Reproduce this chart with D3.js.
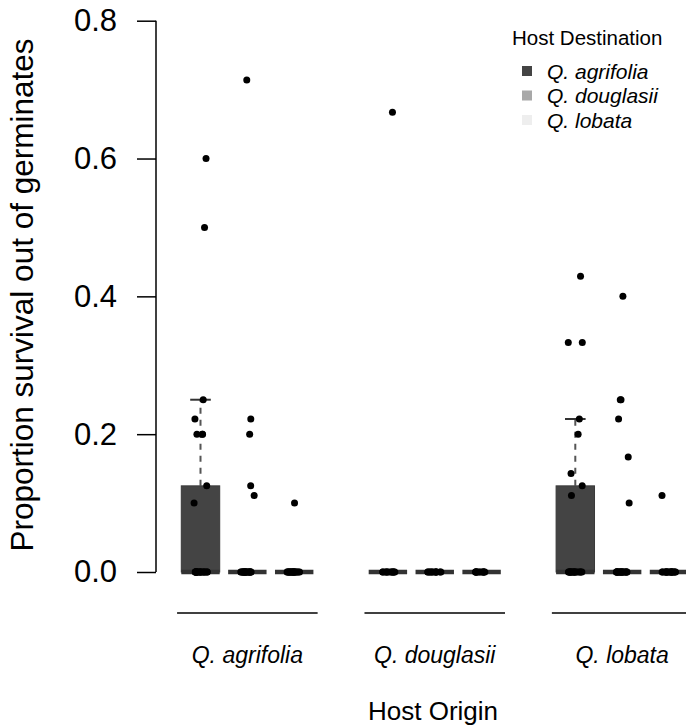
<!DOCTYPE html>
<html>
<head>
<meta charset="utf-8">
<script src="https://cdn.jsdelivr.net/npm/d3@7"></script>
<style>
  body { margin: 0; background: #fff; }
  svg { display: block; font-family: "Liberation Sans", Arial, Helvetica, sans-serif; }
</style>
</head>
<body>
<div id="chart"></div>
<script>
// host origin groups and destination series
const origins = ["Q. agrifolia", "Q. douglasii", "Q. lobata"];
const destinations = ["Q. agrifolia", "Q. douglasii", "Q. lobata"];

// non-zero proportions surviving, one list per destination
const fromAgrifolia = [[0.6, 0.5, 0.25, 0.222, 0.2, 0.2, 0.2, 0.125, 0.1],
                       [0.714, 0.222, 0.2, 0.125, 0.111],
                       [0.1]];
const fromDouglasii = [[0.667], [], []];
const fromLobata = [[0.429, 0.333, 0.333, 0.222, 0.2, 0.143, 0.125, 0.111],
                    [0.4, 0.25, 0.25, 0.222, 0.167, 0.1],
                    [0.111]];
// how many germinates had zero survival in each cell
const zeroCounts = [[20, 20, 20], [12, 12, 12], [17, 20, 18]];

const yTicks = [0, 0.2, 0.4, 0.6, 0.8];

const destColors = ["#444444", "#a8a8a8", "#eeeeee"];

const width = 686, height = 727;

const svg = d3.select("#chart").append("svg")
    .attr("width", width)
    .attr("height", height);

// box positions 1..11 with a gap between origin groups
const x = d3.scaleLinear().domain([1, 11]).range([200.5, 669]);
const y = d3.scaleLinear().domain([0, 0.8]).range([572, 20.7]);
const unit = x(2) - x(1);

// build one cell per origin/destination
const allValues = [fromAgrifolia, fromDouglasii, fromLobata];
const cells = [];
allValues.forEach((byDest, oi) => {
    byDest.forEach((vals, di) => {
        const v = vals.concat(d3.range(zeroCounts[oi][di]).map(() => 0));
        cells.push({origin: oi, dest: di, pos: oi * 4 + di + 1, values: v.sort(d3.ascending)});
    });
});

// box stats
cells.forEach(c => {
    c.q1 = d3.quantileSorted(c.values, 0.25);
    c.med = d3.quantileSorted(c.values, 0.5);
    c.q3 = d3.quantileSorted(c.values, 0.75);
    const iqr = c.q3 - c.q1;
    c.hi = d3.max(c.values.filter(v => v <= c.q3 + 1.5 * iqr));
});

// y axis
const yAxis = svg.append("g")
    .attr("transform", `translate(156,0)`)
    .call(d3.axisLeft(y).tickValues(yTicks).tickFormat(d3.format(".1f")).tickSize(19).tickPadding(20));
yAxis.select(".domain").attr("d", `M0,${y(0)}V${y(0.8)}`).attr("stroke", "#000").attr("stroke-width", 1.5);
yAxis.selectAll(".tick line").attr("stroke", "#000").attr("stroke-width", 1.5);
yAxis.selectAll(".tick text").attr("font-size", 31).attr("fill", "#000")
    .attr("font-family", "Liberation Sans, Arial, sans-serif");

svg.append("text")
    .attr("transform", `translate(33,295) rotate(-90)`)
    .attr("text-anchor", "middle")
    .attr("font-size", 31.5)
    .text("Proportion survival out of germinates");

// group lines and labels along the bottom
const groups = svg.append("g").selectAll("g").data(origins).join("g");
groups.append("line")
    .attr("x1", (d, i) => x(i * 4 + 0.5))
    .attr("x2", (d, i) => x(i * 4 + 3.5))
    .attr("y1", 613).attr("y2", 613)
    .attr("stroke", "#000").attr("stroke-width", 1.5);
groups.append("text")
    .attr("x", (d, i) => x(i * 4 + 2))
    .attr("y", 663)
    .attr("text-anchor", "middle")
    .attr("font-size", 23)
    .attr("font-style", "italic")
    .text(d => d);

svg.append("text")
    .attr("x", 433).attr("y", 720)
    .attr("text-anchor", "middle")
    .attr("font-size", 26)
    .text("Host Origin");

// boxes
const boxW = unit * 0.82;
const box = svg.append("g").selectAll("g").data(cells).join("g");

box.filter(d => d.hi > d.q3).append("line")
    .attr("x1", d => x(d.pos)).attr("x2", d => x(d.pos))
    .attr("y1", d => y(d.q3)).attr("y2", d => y(d.hi))
    .attr("stroke", "#555").attr("stroke-width", 2)
    .attr("stroke-dasharray", "6,6");
box.filter(d => d.hi > d.q3).append("line")
    .attr("x1", d => x(d.pos) - unit * 0.22).attr("x2", d => x(d.pos) + unit * 0.22)
    .attr("y1", d => y(d.hi)).attr("y2", d => y(d.hi))
    .attr("stroke", "#333").attr("stroke-width", 2);

box.append("rect")
    .attr("x", d => x(d.pos) - boxW / 2)
    .attr("width", boxW)
    .attr("y", d => y(d.q3))
    .attr("height", d => y(d.q1) - y(d.q3))
    .attr("fill", d => destColors[d.dest])
    .attr("stroke", "#3a3a3a").attr("stroke-width", 1);

box.append("line")
    .attr("x1", d => x(d.pos) - boxW / 2).attr("x2", d => x(d.pos) + boxW / 2)
    .attr("y1", d => y(d.med)).attr("y2", d => y(d.med))
    .attr("stroke", "#333").attr("stroke-width", 4.5);

// jittered points
const rnd = d3.randomUniform.source(d3.randomLcg(0.42))(-0.15, 0.15);
const pts = [];
cells.forEach(c => c.values.forEach(v => pts.push({pos: c.pos, v: v, j: rnd()})));

svg.append("g").selectAll("circle").data(pts).join("circle")
    .attr("cx", d => x(d.pos + d.j))
    .attr("cy", d => y(d.v))
    .attr("r", 3.5)
    .attr("fill", "#000");

// legend
const legend = svg.append("g");
legend.append("text")
    .attr("x", 512).attr("y", 45)
    .attr("font-size", 20.5)
    .text("Host Destination");
const item = legend.selectAll("g.item").data(destinations).join("g")
    .attr("class", "item")
    .attr("transform", (d, i) => `translate(0,${71 + i * 24.5})`);
item.append("rect")
    .attr("x", 522).attr("y", -5)
    .attr("width", 10).attr("height", 10)
    .attr("fill", (d, i) => destColors[i]);
item.append("text")
    .attr("x", 547).attr("y", 7.5)
    .attr("font-size", 21)
    .attr("font-style", "italic")
    .text(d => d);
</script>
</body>
</html>
